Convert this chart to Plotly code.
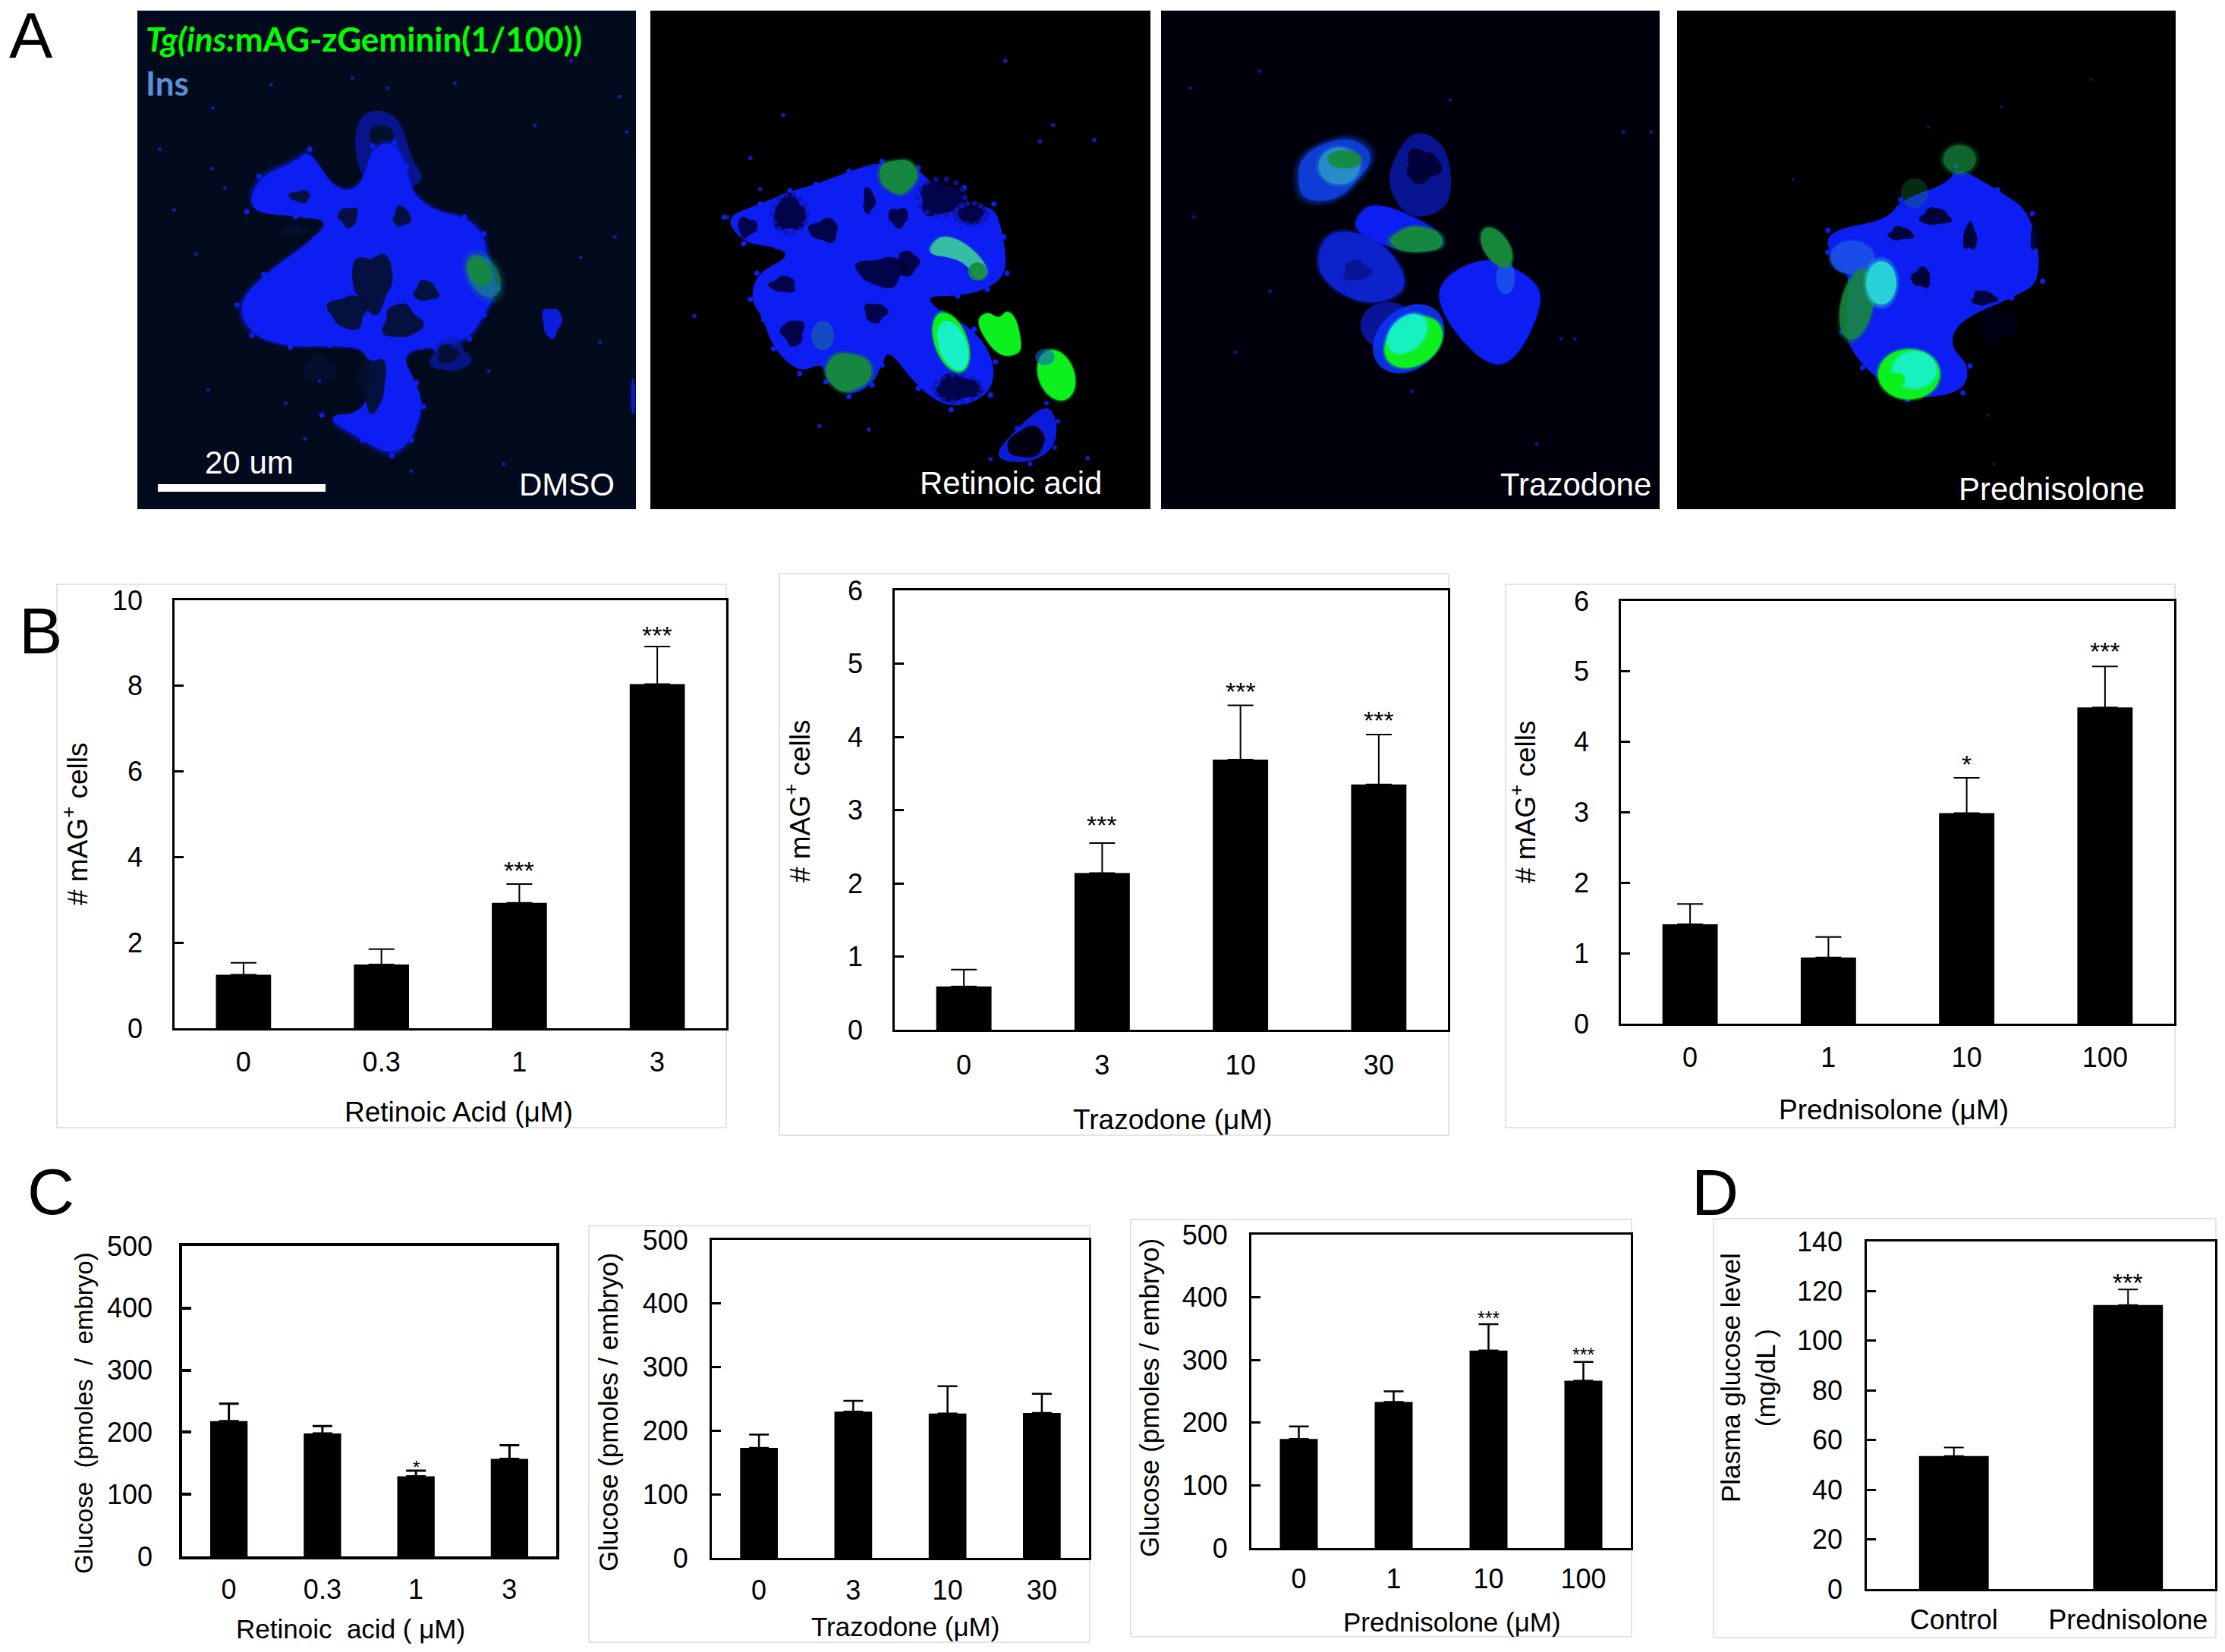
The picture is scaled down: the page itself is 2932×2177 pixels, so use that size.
import math
import plotly.graph_objects as go

W, H = 2932, 2177
FONT = "Liberation Sans"
MU = "μ"

# ---- chart data -------------------------------------------------------
b1_cat = ["0", "0.3", "1", "3"]
b1_val = [1.25, 1.49, 2.93, 8.04]
b1_err = [0.28, 0.36, 0.44, 0.88]
b1_sig = ["", "", "***", "***"]
b1_sig_y = [None, None, 3.8, 9.3]

b2_cat = ["0", "3", "10", "30"]
b2_val = [0.59, 2.14, 3.69, 3.35]
b2_err = [0.23, 0.41, 0.74, 0.68]
b2_sig = ["", "***", "***", "***"]
b2_sig_y = [None, 2.87, 4.69, 4.3]

b3_cat = ["0", "1", "10", "100"]
b3_val = [1.41, 0.94, 2.99, 4.49]
b3_err = [0.29, 0.29, 0.50, 0.58]
b3_sig = ["", "", "*", "***"]
b3_sig_y = [None, None, 3.76, 5.36]

c1_cat = ["0", "0.3", "1", "3"]
c1_val = [218, 198, 129, 157]
c1_err = [28, 12, 9, 22]
c1_sig = ["", "", "*", ""]
c1_sig_y = [None, None, 150, None]

c2_cat = ["0", "3", "10", "30"]
c2_val = [173, 230, 227, 228]
c2_err = [21, 17, 43, 30]
c2_sig = ["", "", "", ""]
c2_sig_y = [None, None, None, None]

c3_cat = ["0", "1", "10", "100"]
c3_val = [174, 233, 315, 267]
c3_err = [20, 17, 42, 30]
c3_sig = ["", "", "***", "***"]
c3_sig_y = [None, None, 373, 315]

d_cat = ["Control", "Prednisolone"]
d_val = [53.6, 114.4]
d_err = [3.4, 6.3]
d_sig = ["", "***"]
d_sig_y = [None, 125.5]

yticks_b1 = [0, 2, 4, 6, 8, 10]
yticks_b = [0, 1, 2, 3, 4, 5, 6]
yticks_c = [0, 100, 200, 300, 400, 500]
yticks_d = [0, 20, 40, 60, 80, 100, 120, 140]

# ---- helpers ----------------------------------------------------------
def X(p): return p / W
def Y(p): return 1 - p / H

shapes, annots = [], []

def text(s, x, y, size=37, color="black", angle=0, family=FONT, anchor="center", height=None):
    annots.append(dict(text=s, x=X(x), y=Y(y), xref="paper", yref="paper", showarrow=False,
                       xanchor=anchor, yanchor="middle", textangle=angle, height=height,
                       font=dict(family=family, size=size, color=color), align="center"))

def rect(x0, y0, x1, y1, fill=None, line=None, lw=1.5):
    shapes.append(dict(type="rect", xref="paper", yref="paper", layer="below",
                       x0=X(x0), x1=X(x1), y0=Y(y0), y1=Y(y1),
                       fillcolor=fill or "rgba(0,0,0,0)",
                       line=dict(color=line, width=lw) if line else dict(width=0)))

def path(pts, fill, op=1.0):
    n = len(pts)
    mid = lambda a, b: ((a[0] + b[0]) / 2, (a[1] + b[1]) / 2)
    m0 = mid(pts[-1], pts[0])
    d = f"M{X(m0[0]):.5f},{Y(m0[1]):.5f}"
    for i in range(n):
        m = mid(pts[i], pts[(i + 1) % n])
        d += f" Q{X(pts[i][0]):.5f},{Y(pts[i][1]):.5f} {X(m[0]):.5f},{Y(m[1]):.5f}"
    shapes.append(dict(type="path", path=d + " Z", xref="paper", yref="paper", layer="below",
                       fillcolor=fill, opacity=op, line=dict(width=0)))

class Panel:
    def __init__(self, ox, oy, sx, sy):
        self.ox, self.oy, self.sx, self.sy = ox, oy, sx, sy
    def conv(self, pts):
        return [(self.ox + a / self.sx, self.oy + b / self.sy) for a, b in pts]
    def blob(self, pts, fill, op=1.0, glow=0.0, beads=0):
        p = self.conv(pts)
        if glow:
            cx = sum(q[0] for q in p) / len(p)
            cy = sum(q[1] for q in p) / len(p)
            for k, o in ((1 + 3 * glow, 0.14), (1 + 2 * glow, 0.2), (1 + glow, 0.3)):
                path([(cx + (a - cx) * k, cy + (b - cy) * k) for a, b in p], fill, o * op)
        path(p, fill, op)
        if beads:
            self.rawdots(p, fill, beads, op)
    def ell(self, cx, cy, rx, ry, fill, op=1.0, rot=0.0, glow=0.0, jag=0.0):
        r = math.radians(rot)
        pts = []
        for i in range(18):
            t = 2 * math.pi * i / 18
            m = 1 + jag * (math.sin(3 * t + cx) + 0.6 * math.sin(5 * t + cy))
            a, b = rx * m * math.cos(t), ry * m * math.sin(t)
            pts.append((cx + a * math.cos(r) - b * math.sin(r), cy + a * math.sin(r) + b * math.cos(r)))
        self.blob(pts, fill, op, glow)
    def rawdots(self, pts, fill, r, op):
        for a, b in pts:
            shapes.append(dict(type="circle", xref="paper", yref="paper", layer="below",
                               x0=X(a - r), x1=X(a + r), y0=Y(b - r), y1=Y(b + r),
                               fillcolor=fill, opacity=op, line=dict(width=0)))
    def dots(self, pts, fill, r=2.5, op=0.8):
        self.rawdots(self.conv(pts), fill, r, op)
    def ring(self, cx, cy, rx, ry, fill, n=14, r=3.5, op=0.85):
        pts = [(cx + rx * math.cos(2 * math.pi * i / n), cy + ry * math.sin(2 * math.pi * i / n)) for i in range(n)]
        self.dots(pts, fill, r, op)

BLUE = "#0c1ef2"
DIM = "#0a18b0"
DGREEN = "#168a3c"
CYAN = "#18f0c8"
LIME = "#0cf01e"
JAG = 0.16

# ---- panel A, micrographs (hand-traced illustration) ------------------
rect(181, 14, 838, 671, fill="#020a1e")
rect(857, 14, 1516, 671, fill="#000000")
rect(1530, 14, 2187, 671, fill="#00000c")
rect(2210, 14, 2867, 671, fill="#000000")

p = Panel(0, 0, 1.568, 2.24)
p.blob([(740, 340), (790, 320), (830, 360), (850, 470), (880, 530), (840, 560), (760, 560), (730, 450)], DIM, 0.75)
p.blob([(760, 370), (810, 370), (815, 420), (770, 450)], "#03102c")
p.blob([(510, 625), (535, 520), (610, 480), (640, 440), (690, 560), (745, 560), (770, 430), (815, 420),
        (840, 490), (850, 570), (900, 625), (960, 640), (1000, 690), (1005, 760), (1030, 850), (1000, 930),
        (970, 1000), (900, 1030), (870, 1025), (830, 1050), (860, 1130), (875, 1200), (850, 1300), (810, 1345),
        (750, 1300), (665, 1225), (760, 1220), (770, 1030), (680, 1020), (600, 1025), (520, 990), (490, 900),
        (545, 810), (650, 705), (680, 650), (610, 640)], BLUE, 1.0, 0.012, 3.5)
for c in [(770, 830, 42, 85), (720, 920, 40, 50), (830, 950, 40, 50), (620, 580, 22, 18), (830, 640, 18, 30),
          (720, 640, 20, 30), (770, 1130, 28, 80), (880, 860, 25, 30), (610, 680, 30, 15)]:
    p.ell(c[0], c[1], c[2], c[3], "#03102c", 0.9, 0, 0, JAG)
p.ell(930, 1050, 40, 50, DIM, 0.7, 0, 0, JAG)
p.ell(925, 1045, 22, 28, "#03102c", 0.9, 0, 0, JAG)
p.ell(660, 1090, 35, 40, "#03102c", 1, 0, 0, JAG)
p.ell(1000, 815, 32, 65, "#1c9a70", 0.5, -15, 0.12)
p.ell(990, 800, 22, 42, DGREEN, 0.85, -15, 0.1)
p.ell(1140, 950, 20, 45, BLUE, 0.9, 0, 0, JAG)
p.ell(1308, 1170, 5, 55, BLUE, 0.8)
p.dots([(440, 320), (728, 230), (438, 498), (465, 555), (1105, 370), (1295, 390), (1280, 285), (940, 245),
        (1010, 1095), (630, 1295), (660, 1125), (405, 750), (1040, 1370), (590, 1190), (1200, 760), (360, 620),
        (850, 1390), (1240, 1010), (430, 1150), (1180, 180), (560, 250), (800, 260), (330, 440), (1270, 700)],
       "#1626d0", 2.5, 0.75)

p = Panel(850, 0, 2.306, 2.306)
p.blob([(240, 660), (350, 620), (440, 580), (520, 560), (620, 520), (720, 490), (830, 510), (870, 560), (970, 570),
        (960, 640), (1060, 620), (1090, 720), (1100, 830), (1040, 880), (950, 900), (850, 900), (900, 950),
        (1000, 1000), (1065, 1100), (1050, 1200), (930, 1245), (830, 1180), (740, 1060), (720, 1110), (690, 1170),
        (620, 1205), (550, 1160), (540, 1100), (470, 1135), (390, 1060), (360, 970), (320, 910), (340, 830),
        (440, 780), (400, 750), (300, 740)], BLUE, 1.0, 0, 3.5)
for c in [(440, 650, 50, 55), (545, 700, 45, 35), (680, 610, 18, 40), (770, 660, 30, 30), (900, 600, 70, 55),
          (990, 650, 45, 30), (720, 825, 75, 45), (420, 865, 40, 25), (450, 1010, 35, 40), (800, 800, 30, 40),
          (950, 1180, 70, 40), (700, 950, 35, 30), (310, 690, 30, 30)]:
    p.ell(c[0], c[1], c[2], c[3], "#00002e", 0.85, 0, 0, JAG)
p.ring(900, 600, 72, 57, DIM)
p.ring(950, 1180, 72, 42, DIM)
p.ring(990, 650, 48, 32, DIM)
p.ring(440, 650, 52, 58, DIM)
p.ell(770, 535, 58, 52, DGREEN, 0.95, 0, 0.06, 0.06)
p.blob([(865, 750), (900, 715), (960, 730), (1020, 780), (1045, 830), (1010, 855), (975, 800), (920, 780), (870, 775)],
       "#38c0a0", 0.95, 0.03)
p.ell(1010, 825, 28, 28, DGREEN, 0.9)
p.ell(540, 1020, 35, 45, "#1450c0", 0.9)
p.ell(618, 1130, 70, 58, DGREEN, 0.95, 0, 0.06, 0.05)
p.ell(930, 1040, 50, 95, LIME, 1, -20, 0.03)
p.ell(935, 1050, 42, 80, CYAN, 1, -20)
p.blob([(1005, 975), (1040, 945), (1075, 970), (1100, 940), (1130, 970), (1145, 1050), (1135, 1075), (1090, 1085),
        (1045, 1050)], LIME, 1, 0.02)
p.ell(1250, 1140, 55, 80, LIME, 1, -20, 0.03)
p.ell(1215, 1085, 30, 25, "#1660d0", 0.6)
p.blob([(1050, 1395), (1130, 1300), (1220, 1225), (1255, 1280), (1245, 1360), (1170, 1410)], BLUE, 0.9, 0, 3)
p.ell(1160, 1345, 60, 45, "#000010", 1, -25, 0, 0.08)
p.dots([(150, 960), (1345, 1392), (350, 575), (250, 660), (420, 350), (1200, 430), (1365, 425), (320, 480),
        (680, 1305), (530, 1295), (1240, 380), (1095, 185)], "#1424c8", 3, 0.8)

p = Panel(1500, 0, 1.095, 2.24)
p.ell(280, 500, 48, 95, "#1040e0", 0.9, 15, 0.06, 0.05)
p.ell(290, 490, 30, 55, "#2a90c8", 0.9, 0, 0.06)
p.ell(298, 470, 24, 26, DGREEN, 0.9, 0, 0.05)
p.ell(408, 520, 45, 125, DIM, 0.8, 0, 0, 0.04)
p.ell(410, 490, 25, 50, "#00002a", 0.85, 0, 0, JAG)
p.ell(320, 790, 58, 108, "#0d24d0", 0.95, -15, 0.03, 0.03)
p.ell(315, 800, 20, 30, "#081488", 0.8, 0, 0, JAG)
p.blob([(310, 650), (340, 590), (430, 670), (445, 730), (390, 750), (320, 695)], BLUE, 1, 0.02)
p.ell(402, 708, 38, 38, DGREEN, 0.95, 0, 0.06, 0.05)
p.blob([(425, 840), (500, 750), (570, 820), (585, 890), (550, 1050), (510, 1090), (450, 970)], BLUE, 1, 0.01)
p.ell(530, 820, 14, 50, "#1a50e8", 0.9)
p.ell(517, 730, 20, 60, DGREEN, 0.95, -12, 0.05)
p.ell(360, 960, 40, 70, DIM, 0.85)
p.ell(390, 1000, 50, 105, "#0c30f0", 0.95, 10)
p.ell(397, 1010, 40, 78, LIME, 1, 12, 0.03)
p.ell(388, 985, 27, 60, CYAN, 0.9, 12, 0.05)
p.dots([(75, 260), (395, 1155), (450, 295), (175, 210), (630, 1000), (575, 1310), (610, 1000), (700, 390),
        (80, 640), (190, 860), (140, 1040), (740, 390)], "#1420b0", 2.5, 0.7)

p = Panel(1500, 0, 1.095, 2.24)
p.blob([(995, 680), (1080, 650), (1100, 590), (1170, 540), (1180, 490), (1240, 560), (1290, 630), (1305, 830),
        (1260, 880), (1185, 945), (1170, 1020), (1200, 1080), (1190, 1160), (1110, 1180), (1045, 1085), (1015, 980),
        (1030, 810), (995, 745)], BLUE, 1.0, 0, 3.5)
for c in [(1130, 820, 14, 30), (1150, 640, 22, 25), (1100, 690, 18, 20), (1240, 960, 28, 50), (1220, 880, 18, 22),
          (1200, 700, 10, 40), (1295, 700, 8, 40)]:
    p.ell(c[0], c[1], c[2], c[3], "#000018", 0.85, 0, 0, JAG)
p.ell(1030, 760, 32, 50, "#1a50ea", 0.9, 0, 0.04)
p.ell(1185, 470, 24, 42, DGREEN, 0.6, 0, 0.1)
p.ell(1120, 570, 20, 45, DGREEN, 0.3)
p.ell(1037, 900, 24, 105, DGREEN, 0.8, 5, 0.05)
p.ell(1072, 835, 22, 65, "#28d0d8", 1, 0, 0.08)
p.ell(1112, 1105, 45, 75, LIME, 1, 0, 0.03)
p.ell(1120, 1092, 32, 55, CYAN, 0.9, 0, 0.05)
p.ell(1095, 1120, 12, 20, LIME, 1)
p.dots([(945, 530), (1235, 1370), (1225, 1225), (1375, 235), (1140, 375), (1245, 315)], "#1420a0", 2, 0.7)

rect(208, 638, 429, 648, fill="white")
text("<b><i>Tg(ins:</i>mAG-zGeminin(1/100))</b>", 190, 51, 44, "#00ff00", family="Lato", anchor="left")
text("<b>Ins</b>", 190, 109, 44, "#5b8fd8", family="Lato", anchor="left")
text("20 um", 328, 609, 42, "white")
text("DMSO", 747, 638, 42, "white")
text("Retinoic acid", 1332, 637, 42, "white")
text("Trazodone", 2076, 638, 42, "white")
text("Prednisolone", 2703, 645, 42, "white")

text("A", 41, 46, 86, height=88)
for s, x, y in [("B", 54, 831), ("C", 67, 1570), ("D", 2260, 1571)]:
    text(s, x, y, 86)

# ---- panel frames -----------------------------------------------------
for f in [(75, 770, 957, 1486), (1027, 756, 1909, 1496), (1984, 770, 2866, 1486),
          (776, 1615, 1436, 2164), (1490, 1607, 2150, 2157), (2258, 1606, 2920, 2158)]:
    rect(*f, line="#dcdcdc", lw=1.5)

# ---- bar charts -------------------------------------------------------
fig = go.Figure()
axes = {}
charts = [
    dict(cat=b1_cat, val=b1_val, err=b1_err, sig=b1_sig, sy=b1_sig_y, box=(230, 791, 957, 1355), ymax=10,
         ticks=yticks_b1, cap=17, lw=2.5, fs=36, sfs=34, ylo=32, xlo=11),
    dict(cat=b2_cat, val=b2_val, err=b2_err, sig=b2_sig, sy=b2_sig_y, box=(1179, 778, 1908, 1357), ymax=6,
         ticks=yticks_b, cap=17, lw=2.5, fs=36, sfs=34, ylo=32, xlo=13),
    dict(cat=b3_cat, val=b3_val, err=b3_err, sig=b3_sig, sy=b3_sig_y, box=(2136, 792, 2865, 1349), ymax=6,
         ticks=yticks_b, cap=17, lw=2.5, fs=36, sfs=34, ylo=32, xlo=11),
    dict(cat=c1_cat, val=c1_val, err=c1_err, sig=c1_sig, sy=c1_sig_y, box=(240, 1642, 733, 2051), ymax=500,
         ticks=yticks_c, cap=13, lw=3.5, fs=36, sfs=24, ylo=28, xlo=9),
    dict(cat=c2_cat, val=c2_val, err=c2_err, sig=c2_sig, sy=c2_sig_y, box=(938, 1634, 1435, 2053), ymax=500,
         ticks=yticks_c, cap=13, lw=3, fs=36, sfs=24, ylo=21, xlo=9),
    dict(cat=c3_cat, val=c3_val, err=c3_err, sig=c3_sig, sy=c3_sig_y, box=(1649, 1627, 2149, 2040), ymax=500,
         ticks=yticks_c, cap=13, lw=3, fs=36, sfs=25, ylo=21, xlo=7),
    dict(cat=d_cat, val=d_val, err=d_err, sig=d_sig, sy=d_sig_y, box=(2460, 1636, 2919, 2094), ymax=140,
         ticks=yticks_d, cap=13, lw=2.5, fs=36, sfs=34, ylo=22, xlo=7),
]
for i, c in enumerate(charts, 1):
    suffix = "" if i == 1 else str(i)
    x0, y0, x1, y1 = c["box"]
    fig.add_trace(go.Bar(x=c["cat"], y=c["val"], xaxis="x" + suffix, yaxis="y" + suffix, width=0.4,
                         marker=dict(color="black", line=dict(width=0)), showlegend=False,
                         error_y=dict(type="data", symmetric=False, array=c["err"],
                                      arrayminus=[0] * len(c["err"]), color="black",
                                      thickness=c["lw"] - 0.5, width=c["cap"])))
    tick = dict(family=FONT, size=c["fs"], color="black")
    axes["xaxis" + suffix] = dict(domain=[X(x0), X(x1)], anchor="y" + suffix, type="category",
                                  range=[-0.5, len(c["cat"]) - 0.5], showline=True, mirror=True,
                                  linecolor="black", linewidth=c["lw"], ticks="", showgrid=False,
                                  zeroline=False, tickfont=tick, ticklabelstandoff=c["xlo"],
                                  fixedrange=True, automargin=False)
    axes["yaxis" + suffix] = dict(domain=[Y(y1), Y(y0)], anchor="x" + suffix, range=[0, c["ymax"]],
                                  tickvals=c["ticks"], showline=True, mirror=True, linecolor="black",
                                  linewidth=c["lw"], ticks="inside", ticklen=12, tickwidth=c["lw"],
                                  tickcolor="black", showgrid=False, zeroline=False, tickfont=tick,
                                  ticklabelstandoff=c["ylo"], fixedrange=True, automargin=False)
    for j, s in enumerate(c["sig"]):
        if s:
            annots.append(dict(text=s, x=j, y=c["sy"][j], xref="x" + suffix, yref="y" + suffix,
                               showarrow=False, xanchor="center", yanchor="middle", yshift=-c["sfs"] * 0.2,
                               font=dict(family=FONT, size=c["sfs"], color="black")))

# ---- axis captions ----------------------------------------------------
MAG = "# mAG<sup>+</sup> cells"
text(f"Retinoic Acid ({MU}M)", 604, 1465)
text(f"Trazodone ({MU}M)", 1545, 1475)
text(f"Prednisolone ({MU}M)", 2495, 1463)
text(MAG, 99, 1086, angle=-90)
text(MAG, 1051, 1056, angle=-90)
text(MAG, 2007, 1057, angle=-90)
text(f"Retinoic  acid ( {MU}M)", 462, 2146, 35)
text(f"Trazodone ({MU}M)", 1193, 2143, 35)
text(f"Prednisolone ({MU}M)", 1913, 2137, 35)
text("Glucose  (pmoles  /  embryo)", 110, 1862, 33, angle=-90)
text("Glucose (pmoles / embryo)", 801, 1861, 35, angle=-90)
text("Glucose (pmoles / embryo)", 1514, 1842, 35, angle=-90)
text("Plasma glucose level<br>(mg/dL )", 2303, 1816, 35, angle=-90)

fig.update_layout(width=W, height=H, autosize=False,
                  margin=dict(l=0, r=0, t=0, b=0, autoexpand=False),
                  paper_bgcolor="white", plot_bgcolor="rgba(0,0,0,0)", showlegend=False,
                  shapes=shapes, annotations=annots, font=dict(family=FONT, color="black"), **axes)
fig.write_html("out.html", post_script="document.body.style.margin='0';",
               config=dict(displayModeBar=False))
